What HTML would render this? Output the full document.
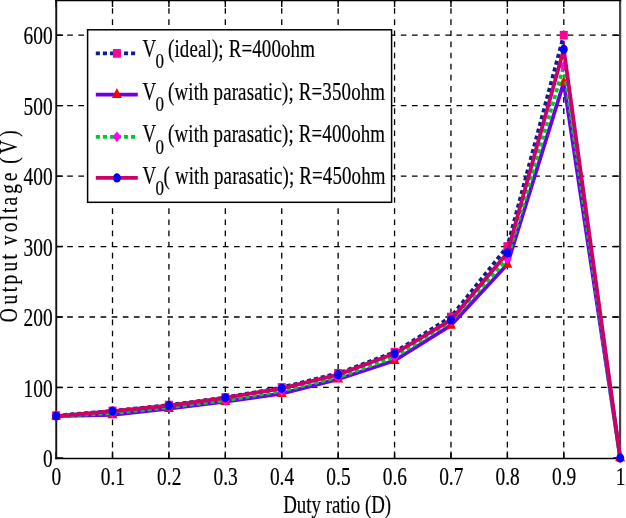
<!DOCTYPE html>
<html><head><meta charset="utf-8"><style>
html,body{margin:0;padding:0;background:#fff;}
svg{display:block;will-change:transform;}
text{font-family:"Liberation Serif",serif;fill:#000;stroke:#000;stroke-width:0.2px;}
</style></head><body>
<svg width="626" height="518" viewBox="0 0 626 518">
<rect width="626" height="518" fill="#fff"/>

<path d="M112.51 458.6V0 M168.92 458.6V0 M225.33 458.6V0 M281.74 458.6V0 M338.15 458.6V0 M394.56 458.6V0 M450.97 458.6V0 M507.38 458.6V0 M563.79 458.6V0 M56.10 387.45H620.20 M56.10 317.00H620.20 M56.10 246.55H620.20 M56.10 176.10H620.20 M56.10 105.65H620.20 M56.10 35.20H620.20" stroke="#000" stroke-width="1.3" stroke-dasharray="5.65 5.47" fill="none"/>
<path d="M56.10 458.6v-7 M56.10 0v7 M112.51 458.6v-7 M112.51 0v7 M168.92 458.6v-7 M168.92 0v7 M225.33 458.6v-7 M225.33 0v7 M281.74 458.6v-7 M281.74 0v7 M338.15 458.6v-7 M338.15 0v7 M394.56 458.6v-7 M394.56 0v7 M450.97 458.6v-7 M450.97 0v7 M507.38 458.6v-7 M507.38 0v7 M563.79 458.6v-7 M563.79 0v7 M620.20 458.6v-7 M620.20 0v7 M56.10 457.90h7 M620.20 457.90h-7 M56.10 387.45h7 M620.20 387.45h-7 M56.10 317.00h7 M620.20 317.00h-7 M56.10 246.55h7 M620.20 246.55h-7 M56.10 176.10h7 M620.20 176.10h-7 M56.10 105.65h7 M620.20 105.65h-7 M56.10 35.20h7 M620.20 35.20h-7" stroke="#000" stroke-width="1.4" fill="none"/>
<path d="M56.25 0V459.3" stroke="#111" stroke-width="1.9" fill="none"/>
<path d="M620.1 0V459.3" stroke="#444" stroke-width="2.2" fill="none"/>
<path d="M55.3 458.6H621.2 M55.3 0.5H621.2" stroke="#000" stroke-width="1.5" fill="none"/>
<polyline points="56.10,415.63 112.51,410.93 168.92,405.06 225.33,397.52 281.74,387.45 338.15,373.36 394.56,352.22 450.97,317.00 507.38,246.55 563.79,35.20" fill="none" stroke="#0b1f8f" stroke-width="3.8" stroke-linejoin="miter" stroke-miterlimit="10" stroke-dasharray="4.1 2.95"/>
<rect x="52.10" y="411.28" width="8.0" height="8.7" fill="#ff0099"/>
<rect x="108.51" y="406.58" width="8.0" height="8.7" fill="#ff0099"/>
<rect x="164.92" y="400.71" width="8.0" height="8.7" fill="#ff0099"/>
<rect x="221.33" y="393.17" width="8.0" height="8.7" fill="#ff0099"/>
<rect x="277.74" y="383.10" width="8.0" height="8.7" fill="#ff0099"/>
<rect x="334.15" y="369.01" width="8.0" height="8.7" fill="#ff0099"/>
<rect x="390.56" y="347.87" width="8.0" height="8.7" fill="#ff0099"/>
<rect x="446.97" y="312.65" width="8.0" height="8.7" fill="#ff0099"/>
<rect x="503.38" y="242.20" width="8.0" height="8.7" fill="#ff0099"/>
<rect x="559.79" y="30.85" width="8.0" height="8.7" fill="#ff0099"/>
<polyline points="56.10,416.19 112.51,414.93 168.92,408.51 225.33,401.61 281.74,393.51 338.15,379.21 394.56,360.61 450.97,325.38 507.38,264.30 563.79,82.40 620.20,457.90" fill="none" stroke="#6e00e8" stroke-width="3.8" stroke-linejoin="miter" stroke-miterlimit="10"/>
<polygon points="56.10,409.59 61.10,419.59 51.10,419.59" fill="#ff0000"/>
<polygon points="112.51,408.33 117.51,418.33 107.51,418.33" fill="#ff0000"/>
<polygon points="168.92,401.91 173.92,411.91 163.92,411.91" fill="#ff0000"/>
<polygon points="225.33,395.01 230.33,405.01 220.33,405.01" fill="#ff0000"/>
<polygon points="281.74,386.91 286.74,396.91 276.74,396.91" fill="#ff0000"/>
<polygon points="338.15,372.61 343.15,382.61 333.15,382.61" fill="#ff0000"/>
<polygon points="394.56,354.01 399.56,364.01 389.56,364.01" fill="#ff0000"/>
<polygon points="450.97,318.78 455.97,328.78 445.97,328.78" fill="#ff0000"/>
<polygon points="507.38,257.70 512.38,267.70 502.38,267.70" fill="#ff0000"/>
<polygon points="563.79,75.80 568.79,85.80 558.79,85.80" fill="#ff0000"/>
<polygon points="620.20,451.30 625.20,461.30 615.20,461.30" fill="#ff0000"/>
<polyline points="56.10,416.05 112.51,413.16 168.92,407.18 225.33,400.41 281.74,390.97 338.15,377.31 394.56,357.09 450.97,321.02 507.38,259.02 563.79,66.20 620.20,457.90" fill="none" stroke="#00c82c" stroke-width="3.8" stroke-linejoin="miter" stroke-miterlimit="10" stroke-dasharray="4.1 2.95"/>
<polygon points="56.10,410.75 60.40,416.05 56.10,421.35 51.80,416.05" fill="#ff00ff"/>
<polygon points="112.51,407.86 116.81,413.16 112.51,418.46 108.21,413.16" fill="#ff00ff"/>
<polygon points="168.92,401.88 173.22,407.18 168.92,412.48 164.62,407.18" fill="#ff00ff"/>
<polygon points="225.33,395.11 229.63,400.41 225.33,405.71 221.03,400.41" fill="#ff00ff"/>
<polygon points="281.74,385.67 286.04,390.97 281.74,396.27 277.44,390.97" fill="#ff00ff"/>
<polygon points="338.15,372.01 342.45,377.31 338.15,382.61 333.85,377.31" fill="#ff00ff"/>
<polygon points="394.56,351.79 398.86,357.09 394.56,362.39 390.26,357.09" fill="#ff00ff"/>
<polygon points="450.97,315.72 455.27,321.02 450.97,326.32 446.67,321.02" fill="#ff00ff"/>
<polygon points="507.38,253.72 511.68,259.02 507.38,264.32 503.08,259.02" fill="#ff00ff"/>
<polygon points="563.79,60.90 568.09,66.20 563.79,71.50 559.49,66.20" fill="#ff00ff"/>
<polygon points="620.20,452.60 624.50,457.90 620.20,463.20 615.90,457.90" fill="#ff00ff"/>
<polyline points="56.10,416.12 112.51,411.19 168.92,405.70 225.33,397.81 281.74,388.37 338.15,374.63 394.56,353.63 450.97,319.96 507.38,252.89 563.79,49.29 620.20,457.90" fill="none" stroke="#cc0066" stroke-width="3.8" stroke-linejoin="miter" stroke-miterlimit="10"/>
<ellipse cx="56.10" cy="416.12" rx="3.95" ry="4.6" fill="#0000ff"/>
<ellipse cx="112.51" cy="411.19" rx="3.95" ry="4.6" fill="#0000ff"/>
<ellipse cx="168.92" cy="405.70" rx="3.95" ry="4.6" fill="#0000ff"/>
<ellipse cx="225.33" cy="397.81" rx="3.95" ry="4.6" fill="#0000ff"/>
<ellipse cx="281.74" cy="388.37" rx="3.95" ry="4.6" fill="#0000ff"/>
<ellipse cx="338.15" cy="374.63" rx="3.95" ry="4.6" fill="#0000ff"/>
<ellipse cx="394.56" cy="353.63" rx="3.95" ry="4.6" fill="#0000ff"/>
<ellipse cx="450.97" cy="319.96" rx="3.95" ry="4.6" fill="#0000ff"/>
<ellipse cx="507.38" cy="252.89" rx="3.95" ry="4.6" fill="#0000ff"/>
<ellipse cx="563.79" cy="49.29" rx="3.95" ry="4.6" fill="#0000ff"/>
<ellipse cx="620.20" cy="457.90" rx="3.95" ry="4.6" fill="#0000ff"/>
<text transform="translate(52.6 467.10) scale(0.758 1)" font-size="25.6" text-anchor="end">0</text>
<text transform="translate(52.6 396.65) scale(0.758 1)" font-size="25.6" text-anchor="end">100</text>
<text transform="translate(52.6 326.20) scale(0.758 1)" font-size="25.6" text-anchor="end">200</text>
<text transform="translate(52.6 255.75) scale(0.758 1)" font-size="25.6" text-anchor="end">300</text>
<text transform="translate(52.6 185.30) scale(0.758 1)" font-size="25.6" text-anchor="end">400</text>
<text transform="translate(52.6 114.85) scale(0.758 1)" font-size="25.6" text-anchor="end">500</text>
<text transform="translate(52.6 44.40) scale(0.758 1)" font-size="25.6" text-anchor="end">600</text>
<text transform="translate(56.40 485.1) scale(0.758 1)" font-size="25.6" text-anchor="middle">0</text>
<text transform="translate(112.81 485.1) scale(0.758 1)" font-size="25.6" text-anchor="middle">0.1</text>
<text transform="translate(169.22 485.1) scale(0.758 1)" font-size="25.6" text-anchor="middle">0.2</text>
<text transform="translate(225.63 485.1) scale(0.758 1)" font-size="25.6" text-anchor="middle">0.3</text>
<text transform="translate(282.04 485.1) scale(0.758 1)" font-size="25.6" text-anchor="middle">0.4</text>
<text transform="translate(338.45 485.1) scale(0.758 1)" font-size="25.6" text-anchor="middle">0.5</text>
<text transform="translate(394.86 485.1) scale(0.758 1)" font-size="25.6" text-anchor="middle">0.6</text>
<text transform="translate(451.27 485.1) scale(0.758 1)" font-size="25.6" text-anchor="middle">0.7</text>
<text transform="translate(507.68 485.1) scale(0.758 1)" font-size="25.6" text-anchor="middle">0.8</text>
<text transform="translate(564.09 485.1) scale(0.758 1)" font-size="25.6" text-anchor="middle">0.9</text>
<text transform="translate(620.50 485.1) scale(0.758 1)" font-size="25.6" text-anchor="middle">1</text>
<text transform="translate(283.2 513.2) scale(0.755 1)" font-size="25">Duty ratio (D)</text>
<g transform="translate(17.1 324.5) rotate(-90)">
<text transform="translate(9.27 0) scale(0.76 1)" font-size="25.5" text-anchor="middle">O</text>
<text transform="translate(24.95 0) scale(0.76 1)" font-size="25.5" text-anchor="middle">u</text>
<text transform="translate(34.94 0) scale(0.76 1)" font-size="25.5" text-anchor="middle">t</text>
<text transform="translate(44.92 0) scale(0.76 1)" font-size="25.5" text-anchor="middle">p</text>
<text transform="translate(57.76 0) scale(0.76 1)" font-size="25.5" text-anchor="middle">u</text>
<text transform="translate(67.74 0) scale(0.76 1)" font-size="25.5" text-anchor="middle">t</text>
<text transform="translate(84.14 0) scale(0.76 1)" font-size="25.5" text-anchor="middle">v</text>
<text transform="translate(96.98 0) scale(0.76 1)" font-size="25.5" text-anchor="middle">o</text>
<text transform="translate(106.96 0) scale(0.76 1)" font-size="25.5" text-anchor="middle">l</text>
<text transform="translate(114.09 0) scale(0.76 1)" font-size="25.5" text-anchor="middle">t</text>
<text transform="translate(123.35 0) scale(0.76 1)" font-size="25.5" text-anchor="middle">a</text>
<text transform="translate(135.47 0) scale(0.76 1)" font-size="25.5" text-anchor="middle">g</text>
<text transform="translate(147.58 0) scale(0.76 1)" font-size="25.5" text-anchor="middle">e</text>
<text transform="translate(163.97 0) scale(0.76 1)" font-size="25.5" text-anchor="middle">(</text>
<text transform="translate(177.51 0) scale(0.76 1)" font-size="25.5" text-anchor="middle">V</text>
<text transform="translate(191.06 0) scale(0.76 1)" font-size="25.5" text-anchor="middle">)</text>
</g>
<rect x="87.6" y="29.8" width="304.0" height="172.5" fill="#fff" stroke="#000" stroke-width="1.5"/>
<path d="M95.8 53.40H137.8" stroke="#0b1f8f" stroke-width="3.8" stroke-dasharray="4.1 2.95"/>
<rect x="112.90" y="49.05" width="8.0" height="8.7" fill="#ff0099"/>
<text transform="translate(142.5 57.10) scale(0.745 1)" font-size="25.4">V</text>
<text transform="translate(159.65 68.30) scale(0.84 1)" font-size="20.3" text-anchor="middle">0</text>
<text transform="translate(168.0 57.10) scale(0.745 1)" font-size="25.4" letter-spacing="0.2">(ideal); R=400ohm</text>
<path d="M95.8 94.60H137.8" stroke="#6e00e8" stroke-width="3.8"/>
<polygon points="116.90,88.00 121.90,98.00 111.90,98.00" fill="#ff0000"/>
<text transform="translate(142.5 99.80) scale(0.745 1)" font-size="25.4">V</text>
<text transform="translate(159.65 111.00) scale(0.84 1)" font-size="20.3" text-anchor="middle">0</text>
<text transform="translate(168.0 99.80) scale(0.745 1)" font-size="25.4" letter-spacing="0.2">(with parasatic); R=350ohm</text>
<path d="M95.8 136.80H137.8" stroke="#00c82c" stroke-width="3.8" stroke-dasharray="4.1 2.95"/>
<polygon points="116.90,131.50 121.20,136.80 116.90,142.10 112.60,136.80" fill="#ff00ff"/>
<text transform="translate(142.5 142.30) scale(0.745 1)" font-size="25.4">V</text>
<text transform="translate(159.65 153.50) scale(0.84 1)" font-size="20.3" text-anchor="middle">0</text>
<text transform="translate(168.0 142.30) scale(0.745 1)" font-size="25.4" letter-spacing="0.2">(with parasatic); R=400ohm</text>
<path d="M95.8 177.90H137.8" stroke="#cc0066" stroke-width="3.8"/>
<ellipse cx="116.90" cy="177.90" rx="3.95" ry="4.6" fill="#0000ff"/>
<text transform="translate(142.5 184.00) scale(0.745 1)" font-size="25.4">V</text>
<text transform="translate(159.65 195.20) scale(0.84 1)" font-size="20.3" text-anchor="middle">0</text>
<text transform="translate(163.6 184.00) scale(0.745 1)" font-size="25.4" letter-spacing="0.2">( with parasatic); R=450ohm</text>
</svg></body></html>
